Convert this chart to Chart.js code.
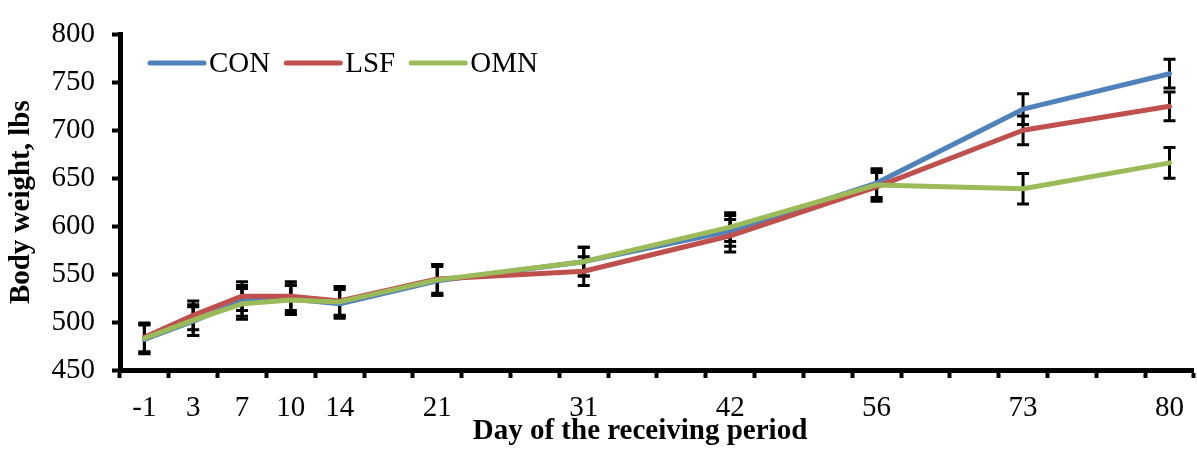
<!DOCTYPE html>
<html>
<head>
<meta charset="utf-8">
<script src="https://cdn.jsdelivr.net/npm/chart.js@4.4.1/dist/chart.umd.min.js"></script>
<style>
    body { margin: 0; background: #fff; }
    canvas { display: block; }
</style>
</head>
<body>
<canvas id="bodyWeight" width="1197" height="453"></canvas>
<script>
// category slots, blanks are empty cells on the axis
const categories = ['-1', '3', '7', '10', '14', '', '21', '', '', '31', '', '', '42', '', '', '56', '', '', '73', '', '', '80'];

const conWeight = [482, 501, 522, 524, 519, null, 543, null, null, 563, null, null, 595, null, null, 645, null, null, 722, null, null, 759];
const lsfWeight = [484, 507, 527, 527, 522, null, 545, null, null, 553, null, null, 590, null, null, 641, null, null, 700, null, null, 725];
const omnWeight = [483, 502, 519, 523, 521, null, 544, null, null, 563, null, null, 599, null, null, 643, null, null, 639, null, null, 666];

// standard errors
const conError = [15, 15, 16, 15, 15, null, 15, null, null, 15, null, null, 16, null, null, 15, null, null, 16, null, null, 15];
const lsfError = [15, 15, 15, 15, 15, null, 15, null, null, 15, null, null, 17, null, null, 15, null, null, 15, null, null, 15];
const omnError = [15, 16, 16, 15, 15, null, 16, null, null, 15, null, null, 15, null, null, 15, null, null, 16, null, null, 16];

const yTicks = [450, 500, 550, 600, 650, 700, 750, 800];

const fontFamily = "'Liberation Serif', 'Times New Roman', serif";

// error bars drawn under the lines
const errorBars = {
    id: 'errorBars',
    beforeDatasetsDraw(chart) {
        const ctx = chart.ctx;
        const yScale = chart.scales.y;
        ctx.save();
        ctx.strokeStyle = '#000';
        ctx.lineWidth = 3;
        chart.data.datasets.forEach(function (ds, d) {
            const meta = chart.getDatasetMeta(d);
            meta.data.forEach(function (pt, i) {
                const v = ds.data[i];
                const e = ds.errors[i];
                if (v == null || e == null) return;
                const top = yScale.getPixelForValue(v + e);
                const bottom = yScale.getPixelForValue(v - e);
                ctx.beginPath();
                ctx.moveTo(pt.x, top);
                ctx.lineTo(pt.x, bottom);
                ctx.moveTo(pt.x - 6, top);
                ctx.lineTo(pt.x + 6, top);
                ctx.moveTo(pt.x - 6, bottom);
                ctx.lineTo(pt.x + 6, bottom);
                ctx.stroke();
            });
        });
        ctx.restore();
    }
};

// legend inside the plot (line then name) and the x axis title
const lineLegend = {
    id: 'lineLegend',
    afterDraw(chart) {
        const ctx = chart.ctx;
        let x = 150;
        const y = 63;
        ctx.save();
        ctx.font = '29px ' + fontFamily;
        ctx.textBaseline = 'middle';
        ctx.lineCap = 'round';
        chart.data.datasets.forEach(function (ds) {
            ctx.strokeStyle = ds.borderColor;
            ctx.lineWidth = 5;
            ctx.beginPath();
            ctx.moveTo(x, y);
            ctx.lineTo(x + 54, y);
            ctx.stroke();
            ctx.fillStyle = '#000';
            ctx.fillText(ds.label, x + 59, y + 1);
            x += 59 + ctx.measureText(ds.label).width + 16;
        });

        ctx.font = 'bold 29px ' + fontFamily;
        ctx.textAlign = 'center';
        ctx.fillText('Day of the receiving period', 640, 432);
        ctx.restore();
    }
};

const ctxWeight = document.getElementById('bodyWeight').getContext('2d');
const chartWeight = new Chart(ctxWeight, {
    type: 'line',
    data: {
        labels: categories,
        datasets: [{
            label: 'CON',
            data: conWeight,
            errors: conError,
            borderColor: '#4F81BD',
            order: 3
        }, {
            label: 'LSF',
            data: lsfWeight,
            errors: lsfError,
            borderColor: '#C0504D',
            order: 2
        }, {
            label: 'OMN',
            data: omnWeight,
            errors: omnError,
            borderColor: '#9BBB59',
            order: 1
        }]
    },
    options: {
        responsive: false,
        animation: false,
        spanGaps: true,
        layout: { padding: { top: 23, left: 0, right: 0, bottom: 0 } },
        elements: {
            line: { borderWidth: 5, tension: 0, borderCapStyle: 'round', borderJoinStyle: 'round' },
            point: { radius: 0, hoverRadius: 0 }
        },
        plugins: {
            legend: { display: false },
            tooltip: { enabled: false }
        },
        scales: {
            x: {
                type: 'category',
                offset: true,
                grid: {
                    offset: true,
                    drawOnChartArea: false,
                    tickLength: 8,
                    tickWidth: 4,
                    tickColor: '#000'
                },
                border: { color: '#000', width: 5 },
                ticks: {
                    autoSkip: false,
                    maxRotation: 0,
                    padding: 13,
                    color: '#000',
                    font: { family: fontFamily, size: 29 }
                },
                afterFit(scale) { scale.height = 83; }
            },
            y: {
                min: 450,
                max: 800,
                afterBuildTicks(scale) {
                    scale.ticks = yTicks.map(function (v) { return { value: v }; });
                },
                grid: {
                    drawOnChartArea: false,
                    tickLength: 8,
                    tickWidth: 4,
                    tickColor: '#000'
                },
                border: { color: '#000', width: 5 },
                ticks: {
                    padding: 17,
                    color: '#000',
                    font: { family: fontFamily, size: 29 }
                },
                title: {
                    display: true,
                    text: 'Body weight, lbs',
                    color: '#000',
                    font: { family: fontFamily, size: 29, weight: 'bold' },
                    padding: { top: 4, bottom: 0 }
                },
                afterFit(scale) { scale.width = 120; }
            }
        }
    },
    plugins: [errorBars, lineLegend]
});
</script>
</body>
</html>
